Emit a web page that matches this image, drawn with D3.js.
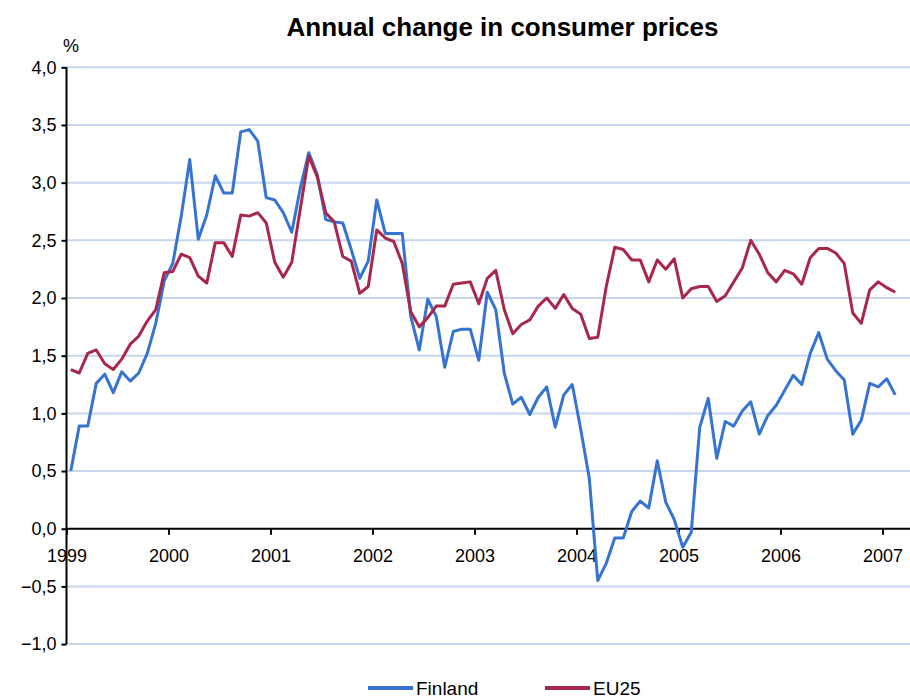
<!DOCTYPE html>
<html>
<head>
<meta charset="utf-8">
<script src="https://cdn.jsdelivr.net/npm/d3@7"></script>
<style>
  body { margin: 0; background: #fff; }
  svg { display: block; font-family: "Liberation Sans", Arial, sans-serif; }
</style>
</head>
<body>
<svg width="910" height="698"></svg>
<script>
// monthly values, Jan 1999 .. Feb 2007
const years = ['1999', '2000', '2001', '2002', '2003', '2004', '2005', '2006', '2007']
const yTicks = [-1, -0.5, 0, 0.5, 1, 1.5, 2, 2.5, 3, 3.5, 4]

const finland = [
  0.50, 0.89, 0.89, 1.26, 1.34, 1.18, 1.36, 1.28, 1.35, 1.52, 1.78, 2.15,
  2.30, 2.71, 3.20, 2.51, 2.72, 3.06, 2.91, 2.91, 3.44, 3.46, 3.36, 2.87,
  2.85, 2.74, 2.57, 2.95, 3.26, 3.07, 2.68, 2.66, 2.65, 2.42, 2.17, 2.32,
  2.85, 2.56, 2.56, 2.56, 1.84, 1.55, 1.99, 1.84, 1.40, 1.71, 1.73, 1.73,
  1.46, 2.05, 1.90, 1.35, 1.08, 1.14, 0.99, 1.14, 1.23, 0.88, 1.16, 1.25,
  0.86, 0.44, -0.45, -0.30, -0.08, -0.08, 0.15, 0.24, 0.18, 0.59, 0.23, 0.08,
  -0.16, -0.03, 0.88, 1.13, 0.61, 0.93, 0.89, 1.02, 1.10, 0.82, 0.98, 1.07,
  1.20, 1.33, 1.25, 1.52, 1.70, 1.47, 1.37, 1.29, 0.82, 0.94, 1.26, 1.23,
  1.30, 1.16
]

const eu25 = [
  1.38, 1.35, 1.52, 1.55, 1.43, 1.38, 1.47, 1.60, 1.67, 1.80, 1.90, 2.22,
  2.23, 2.38, 2.35, 2.19, 2.13, 2.48, 2.48, 2.36, 2.72, 2.71, 2.74, 2.65,
  2.31, 2.18, 2.31, 2.77, 3.23, 3.05, 2.74, 2.66, 2.36, 2.32, 2.04, 2.10,
  2.59, 2.52, 2.49, 2.30, 1.88, 1.75, 1.83, 1.93, 1.93, 2.12, 2.13, 2.14,
  1.95, 2.17, 2.24, 1.90, 1.69, 1.77, 1.81, 1.93, 2.00, 1.91, 2.03, 1.91,
  1.86, 1.65, 1.66, 2.10, 2.44, 2.42, 2.33, 2.33, 2.14, 2.33, 2.25, 2.34,
  2.00, 2.08, 2.10, 2.10, 1.97, 2.02, 2.14, 2.26, 2.50, 2.38, 2.22, 2.14,
  2.24, 2.21, 2.12, 2.35, 2.43, 2.43, 2.39, 2.30, 1.87, 1.78, 2.07, 2.14,
  2.09, 2.05
]

const seriesNames = ['Finland', 'EU25']
const colors = ['#3674cf', '#a8284c']

const svg = d3.select('svg')
const width = 910

// month index scale, year boundaries sit half a month before January
const x = d3.scaleLinear().domain([-0.5, 95.5]).range([66.5, 882.5])
const y = d3.scaleLinear().domain([-1, 4]).range([644.1, 67.3])

// title
svg.append('text')
  .attr('x', 502.5)
  .attr('y', 36)
  .attr('text-anchor', 'middle')
  .attr('font-size', 26)
  .attr('font-weight', 'bold')
  .text('Annual change in consumer prices')

svg.append('text')
  .attr('x', 63)
  .attr('y', 52)
  .attr('font-size', 18)
  .text('%')

// horizontal grid lines
svg.append('g')
  .selectAll('line')
  .data(yTicks.filter((d) => d !== 0))
  .join('line')
  .attr('x1', x.range()[0])
  .attr('x2', width)
  .attr('y1', (d) => y(d))
  .attr('y2', (d) => y(d))
  .attr('stroke', '#c6d6ef')
  .attr('stroke-width', 2)

// y axis
const yAxis = svg.append('g')
  .attr('transform', `translate(${x.range()[0]},0)`)
  .call(
    d3.axisLeft(y)
      .tickValues(yTicks)
      .tickSize(5)
      .tickPadding(5)
      .tickFormat((d) => d3.format('.1f')(d).replace('.', ',')),
  )
yAxis.select('.domain').attr('stroke', '#000').attr('stroke-width', 2)
  .attr('d', `M0,${y(4)}V${y(-1)}`)
yAxis.selectAll('.tick line').attr('stroke', '#000').attr('stroke-width', 2)
yAxis.selectAll('.tick text')
  .attr('font-size', 18)
  .attr('font-family', '"Liberation Sans", Arial, sans-serif')
  .attr('fill', '#000')

// x axis along zero
const yearTicks = years.map((d, i) => i * 12 - 0.5)
const xAxis = svg.append('g')
  .attr('transform', `translate(0,${y(0)})`)
  .call(
    d3.axisBottom(x)
      .tickValues(yearTicks)
      .tickSize(6)
      .tickPadding(14)
      .tickFormat((d, i) => years[i]),
  )
xAxis.select('.domain').attr('stroke', '#000').attr('stroke-width', 2)
  .attr('d', `M${x.range()[0]},0H${width}`)
xAxis.selectAll('.tick line').attr('stroke', '#000').attr('stroke-width', 2)
xAxis.selectAll('.tick text')
  .attr('font-size', 18)
  .attr('font-family', '"Liberation Sans", Arial, sans-serif')
  .attr('fill', '#000')

// series lines
const line = d3.line()
  .x((d, i) => x(i))
  .y((d) => y(d))

;[finland, eu25].forEach((values, k) => {
  svg.append('path')
    .datum(values)
    .attr('fill', 'none')
    .attr('stroke', colors[k])
    .attr('stroke-width', 3)
    .attr('stroke-linejoin', 'round')
    .attr('d', line)
})

// legend
const legendX = [368, 545]
const legend = svg.append('g')
  .selectAll('g')
  .data(seriesNames)
  .join('g')
  .attr('transform', (d, i) => `translate(${legendX[i]},688)`)
legend.append('line')
  .attr('x1', 0)
  .attr('x2', 45)
  .attr('stroke', (d, i) => colors[i])
  .attr('stroke-width', 4)
legend.append('text')
  .attr('x', 48)
  .attr('y', 7)
  .attr('font-size', 19)
  .text((d) => d)
</script>
</body>
</html>
